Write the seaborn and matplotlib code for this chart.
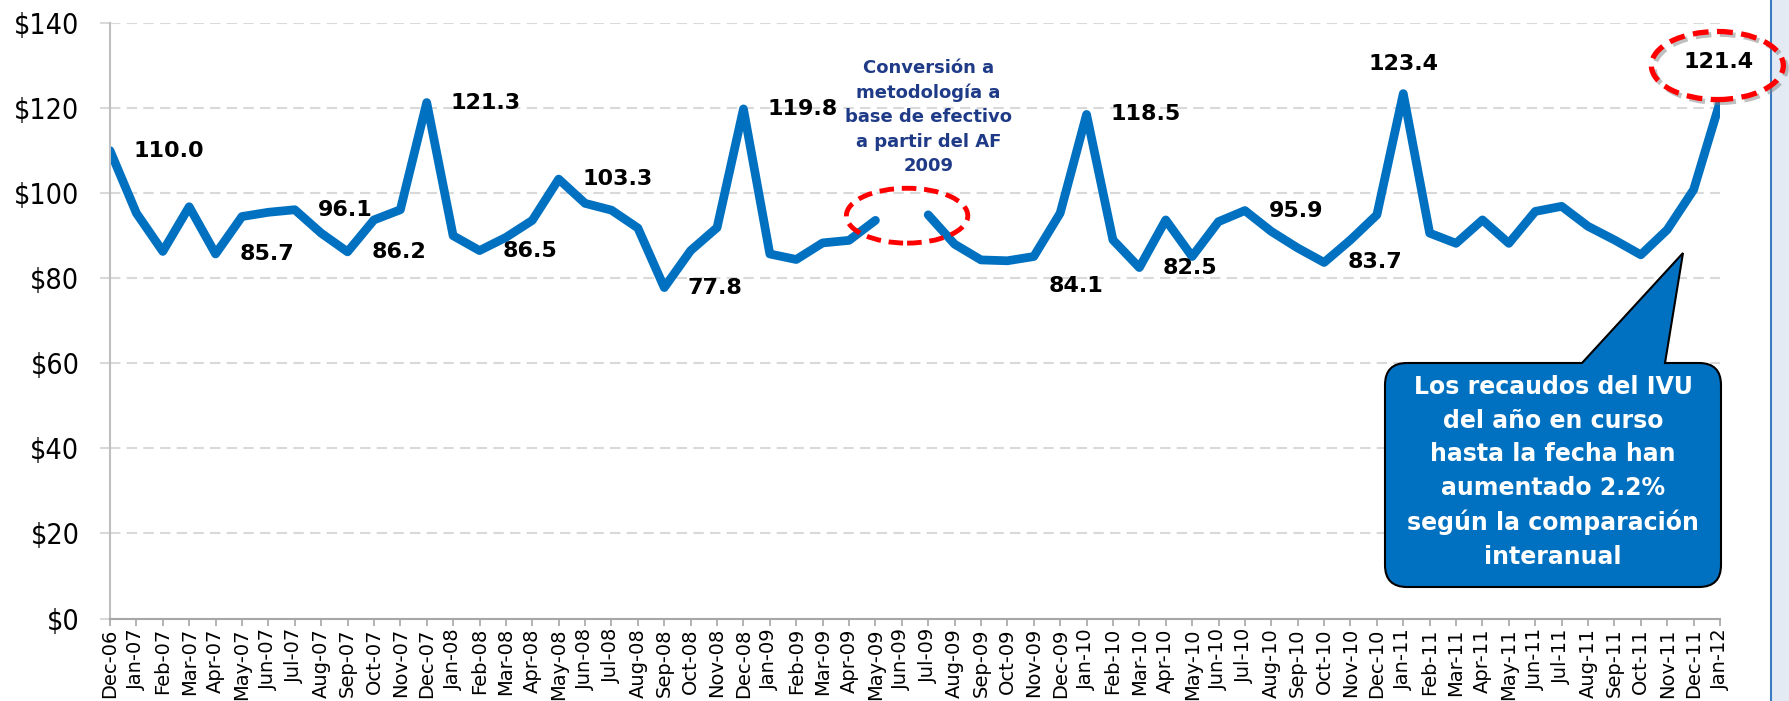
import numpy as np
import pandas as pd
import matplotlib
matplotlib.use("Agg")
import matplotlib.pyplot as plt
import matplotlib.patheffects as pe
from matplotlib.patches import Ellipse, PathPatch, Rectangle
from matplotlib.path import Path
import seaborn as sns

# Monthly IVU collections (millions $), Jun-09 missing (methodology change)
months = ["Dec-06",
          "Jan-07", "Feb-07", "Mar-07", "Apr-07", "May-07", "Jun-07",
          "Jul-07", "Aug-07", "Sep-07", "Oct-07", "Nov-07", "Dec-07",
          "Jan-08", "Feb-08", "Mar-08", "Apr-08", "May-08", "Jun-08",
          "Jul-08", "Aug-08", "Sep-08", "Oct-08", "Nov-08", "Dec-08",
          "Jan-09", "Feb-09", "Mar-09", "Apr-09", "May-09", "Jun-09",
          "Jul-09", "Aug-09", "Sep-09", "Oct-09", "Nov-09", "Dec-09",
          "Jan-10", "Feb-10", "Mar-10", "Apr-10", "May-10", "Jun-10",
          "Jul-10", "Aug-10", "Sep-10", "Oct-10", "Nov-10", "Dec-10",
          "Jan-11", "Feb-11", "Mar-11", "Apr-11", "May-11", "Jun-11",
          "Jul-11", "Aug-11", "Sep-11", "Oct-11", "Nov-11", "Dec-11",
          "Jan-12"]
values = [110.0,
          95.3, 86.3, 96.8, 85.7, 94.5, 95.5,
          96.1, 90.6, 86.2, 93.7, 96.1, 121.3,
          90.0, 86.5, 89.6, 93.6, 103.3, 97.6,
          96.0, 91.8, 77.8, 86.5, 91.9, 119.8,
          85.7, 84.4, 88.3, 88.9, 93.6, np.nan,
          94.9, 88.0, 84.3, 84.1, 85.1, 95.3,
          118.5, 89.0, 82.5, 93.7, 85.1, 93.3,
          95.9, 91.0, 87.1, 83.7, 89.0, 94.9,
          123.4, 90.6, 88.2, 93.7, 88.2, 95.7,
          96.9, 92.2, 89.0, 85.5, 91.4, 100.8,
          121.4]

# which points get a value label
labeled = ["Dec-06", "Apr-07", "Jul-07", "Sep-07", "Dec-07", "Feb-08", "May-08",
           "Sep-08", "Dec-08", "Oct-09", "Jan-10", "Mar-10", "Jul-10", "Oct-10",
           "Jan-11", "Jan-12"]

note_text = "Conversión a\nmetodología a\nbase de efectivo\na partir del AF\n2009"
callout_text = ("Los recaudos del IVU\ndel año en curso\nhasta la fecha han\n"
                "aumentado 2.2%\nsegún la comparación\ninteranual")

df = pd.DataFrame({"month": months, "value": values})
df["idx"] = np.arange(len(df))
df["segment"] = df["value"].isna().cumsum()
df = df.dropna()

W, H = 1789, 701
fig = plt.figure(figsize=(W / 100, H / 100), dpi=100)
ax = fig.add_axes([110 / W, (H - 618.5) / H, (1720 - 110) / W, (618.5 - 23) / H])

blue = "#0070C0"
sns.lineplot(data=df, x="idx", y="value", units="segment", estimator=None,
             color=blue, lw=6.3, solid_capstyle="round", ax=ax, legend=False)

ax.set_xlim(0, len(months) - 1)
ax.set_ylim(0, 140)
ax.set_xticks(range(len(months)))
ax.set_xticklabels(months, rotation=90, fontsize=14)
ax.set_yticks(range(0, 141, 20))
ax.set_yticklabels([f"${v}" for v in range(0, 141, 20)], fontsize=20.5,
                   fontstretch="condensed")
ax.set_xlabel("")
ax.set_ylabel("")
ax.yaxis.grid(True, color="#D9D9D9", linestyle=(0, (5, 3)), lw=1.5)
ax.set_axisbelow(True)
for s in ["top", "right"]:
    ax.spines[s].set_visible(False)
ax.spines["left"].set_color("#BFBFBF")
ax.spines["left"].set_linewidth(1.5)
ax.spines["bottom"].set_color("#A6A6A6")
ax.spines["bottom"].set_linewidth(1.5)
ax.tick_params(axis="x", length=5, color="#A6A6A6", width=1.2, pad=2)
ax.tick_params(axis="y", length=7, color="#D9D9D9", width=1.5, pad=15)

# value labels
offsets = {"Oct-09": ((30, -18), "left"), "Jan-11": ((0, 21), "center"),
           "Jan-12": ((-1, 29), "center")}
for m in labeled:
    i = months.index(m)
    off, ha = offsets.get(m, ((17, 0), "left"))
    ax.annotate(f"{values[i]:.1f}", (i, values[i]), xytext=off,
                textcoords="offset points", ha=ha, va="center",
                fontsize=16, fontweight="bold", color="black",
                annotation_clip=False)

ax.text(31.0, 117.9, note_text, ha="center", va="center", fontsize=13,
        fontweight="bold", color="#1F3B87", linespacing=1.45)

dash = (0, (3, 1.6))
ax.add_patch(Ellipse((30.2, 94.7), 4.6, 12.9, fill=False, ec="#FF0000",
                     lw=3.5, ls=dash, clip_on=False, zorder=5))
ax.add_patch(Ellipse((60.9, 130.0), 5.0, 16.0, fill=False, ec="#FF0000",
                     lw=3.8, ls=dash, clip_on=False, zorder=5,
                     path_effects=[pe.SimpleLineShadow(offset=(2, -2),
                                                       shadow_color="gray",
                                                       alpha=0.5),
                                   pe.Normal()]))

# right-hand slide frame
fig.add_artist(Rectangle((1771 / W, 0), 1 - 1771 / W, 1, transform=fig.transFigure,
                         facecolor="#E4EAF3", edgecolor="none", zorder=-1))
fig.add_artist(plt.Line2D([1771 / W, 1771 / W], [0, 1], transform=fig.transFigure,
                          color="#3A7CC2", lw=1.5, zorder=-1))

# callout box with pointer (pixel coords, y down)
x0, y0, x1, y1, r = 1385, 363, 1721, 587, 22
bl, br, tip = 1582, 1665, (1683, 253)
pts = [(x0 + r, y0), (bl, y0), tip, (br, y0), (x1 - r, y0),
       (x1, y0), (x1, y0 + r), (x1, y1 - r), (x1, y1), (x1 - r, y1),
       (x0 + r, y1), (x0, y1), (x0, y1 - r), (x0, y0 + r), (x0, y0), (x0 + r, y0),
       (x0 + r, y0)]
codes = [Path.MOVETO, Path.LINETO, Path.LINETO, Path.LINETO, Path.LINETO,
         Path.CURVE3, Path.CURVE3, Path.LINETO, Path.CURVE3, Path.CURVE3,
         Path.LINETO, Path.CURVE3, Path.CURVE3, Path.LINETO, Path.CURVE3, Path.CURVE3,
         Path.CLOSEPOLY]
verts = [(px / W, 1 - py / H) for px, py in pts]
fig.add_artist(PathPatch(Path(verts, codes), transform=fig.transFigure,
                         facecolor=blue, edgecolor="black", lw=1.5, zorder=3))
fig.text(1553 / W, 1 - 472 / H, callout_text, ha="center", va="center",
         fontsize=17, fontweight="bold", color="white", linespacing=1.5, zorder=4)

fig.savefig("out.png", dpi=100)
